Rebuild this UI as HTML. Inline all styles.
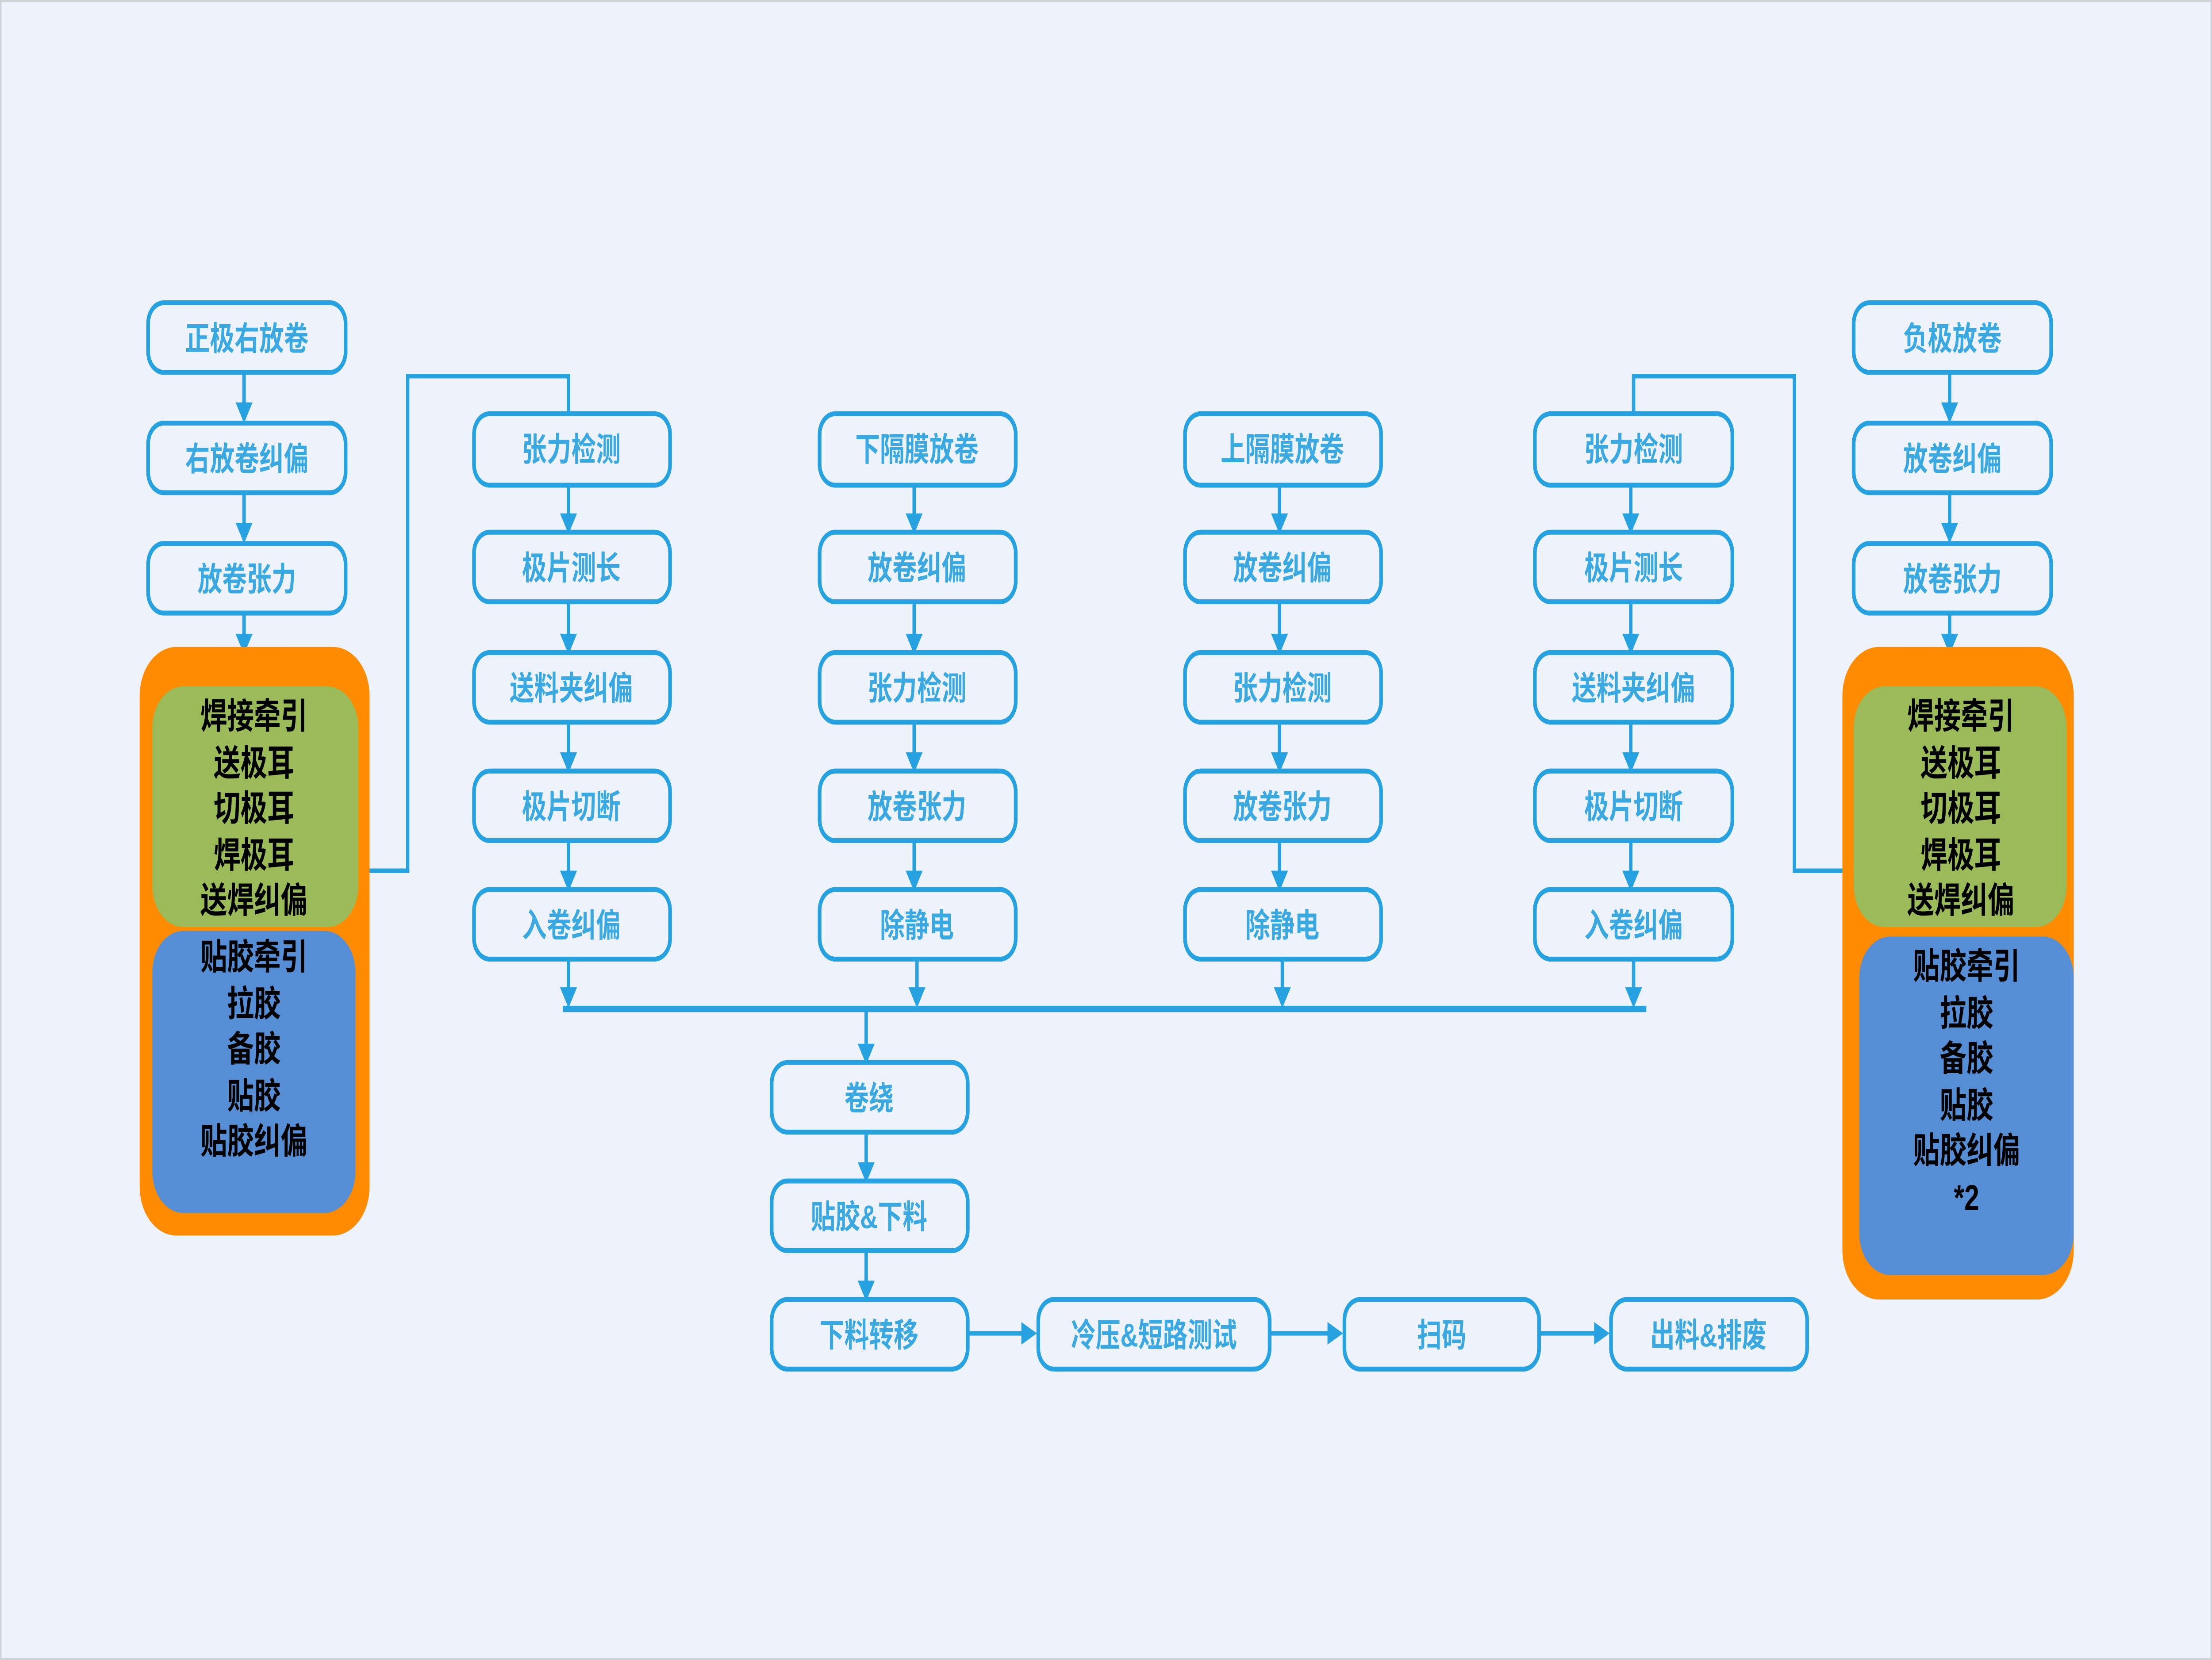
<!DOCTYPE html>
<html><head><meta charset="utf-8"><style>
html,body{margin:0;padding:0;background:#eef2fb;overflow:hidden;width:100%;height:100%;}
svg{display:block;position:absolute;left:0;top:0;width:100vw;height:100vh}
.b{fill:#eef3fb;stroke:#26a2e0;stroke-width:2.6}
.t{fill:#3aa9e2;font-family:"Liberation Sans","Noto Sans CJK SC",sans-serif;font-weight:bold;font-size:17.5px;text-anchor:middle;dominant-baseline:central}
.k{fill:#000;font-family:"Liberation Sans","Noto Sans CJK SC",sans-serif;font-weight:bold;font-size:19px;text-anchor:middle;dominant-baseline:central}
.l{stroke:#26a2e0;stroke-width:2.4;fill:none}
.a{fill:#26a2e0}
</style></head><body>
<svg viewBox="0 0 1568 882.7" preserveAspectRatio="none" xmlns="http://www.w3.org/2000/svg">
<rect x="0" y="0" width="1568" height="882.7" fill="#eef2fb"/>
<rect x="0.5" y="0.5" width="1567" height="881.7" fill="none" stroke="#cfd3d8" stroke-width="1.2"/>
<defs>
<g id="ar"><path d="M-6,-9 L6,-9 L0,2 Z" class="a"/></g>
</defs>

<rect class="b" x="105" y="161" width="140" height="37" rx="11"/><text class="t" x="175" y="180">正极右放卷</text>
<rect class="b" x="105" y="225" width="140" height="37" rx="11"/><text class="t" x="175" y="244">右放卷纠偏</text>
<rect class="b" x="105" y="289" width="140" height="37" rx="11"/><text class="t" x="175" y="308">放卷张力</text>
<line class="l" x1="173" y1="198" x2="173" y2="216"/><use href="#ar" x="173" y="223"/>
<line class="l" x1="173" y1="262" x2="173" y2="280"/><use href="#ar" x="173" y="287"/>
<line class="l" x1="173" y1="326" x2="173" y2="340"/><use href="#ar" x="173" y="346"/>

<rect x="99" y="344" width="163" height="313" rx="26" fill="#ff8c00"/>
<rect x="108" y="365" width="146" height="128" rx="22" fill="#9bbb59"/>
<rect x="108" y="495" width="144" height="150" rx="22" fill="#558ed5"/>
<text class="k" x="180" y="381">焊接牵引</text>
<text class="k" x="180" y="406">送极耳</text>
<text class="k" x="180" y="430">切极耳</text>
<text class="k" x="180" y="455">焊极耳</text>
<text class="k" x="180" y="479">送焊纠偏</text>
<text class="k" x="180" y="509">贴胶牵引</text>
<text class="k" x="180" y="534">拉胶</text>
<text class="k" x="180" y="558">备胶</text>
<text class="k" x="180" y="583">贴胶</text>
<text class="k" x="180" y="607">贴胶纠偏</text>

<polyline class="l" points="262,463 289,463 289,200 403,200 403,220"/>

<rect class="b" x="1314" y="161" width="140" height="37" rx="11"/><text class="t" x="1384" y="180">负极放卷</text>
<rect class="b" x="1314" y="225" width="140" height="37" rx="11"/><text class="t" x="1384" y="244">放卷纠偏</text>
<rect class="b" x="1314" y="289" width="140" height="37" rx="11"/><text class="t" x="1384" y="308">放卷张力</text>
<line class="l" x1="1382" y1="198" x2="1382" y2="216"/><use href="#ar" x="1382" y="223"/>
<line class="l" x1="1382" y1="262" x2="1382" y2="280"/><use href="#ar" x="1382" y="287"/>
<line class="l" x1="1382" y1="326" x2="1382" y2="340"/><use href="#ar" x="1382" y="346"/>

<rect x="1306" y="344" width="164" height="347" rx="26" fill="#ff8c00"/>
<rect x="1314" y="365" width="151" height="128" rx="22" fill="#9bbb59"/>
<rect x="1318" y="498" width="152" height="180" rx="22" fill="#558ed5"/>
<text class="k" x="1390" y="381">焊接牵引</text>
<text class="k" x="1390" y="406">送极耳</text>
<text class="k" x="1390" y="430">切极耳</text>
<text class="k" x="1390" y="455">焊极耳</text>
<text class="k" x="1390" y="479">送焊纠偏</text>
<text class="k" x="1394" y="514">贴胶牵引</text>
<text class="k" x="1394" y="539">拉胶</text>
<text class="k" x="1394" y="563">备胶</text>
<text class="k" x="1394" y="588">贴胶</text>
<text class="k" x="1394" y="612">贴胶纠偏</text>
<text class="k" x="1394" y="637">*2</text>

<polyline class="l" points="1306,463 1272,463 1272,200 1158,200 1158,220"/>

<g>
<rect class="b" x="336" y="220" width="139" height="38" rx="11"/><text class="t" x="405" y="239">张力检测</text>
<rect class="b" x="336" y="283" width="139" height="37" rx="11"/><text class="t" x="405" y="302">极片测长</text>
<rect class="b" x="336" y="347" width="139" height="37" rx="11"/><text class="t" x="405" y="366">送料夹纠偏</text>
<rect class="b" x="336" y="410" width="139" height="37" rx="11"/><text class="t" x="405" y="429">极片切断</text>
<rect class="b" x="336" y="473" width="139" height="37" rx="11"/><text class="t" x="405" y="492">入卷纠偏</text>
</g>
<g>
<rect class="b" x="581" y="220" width="139" height="38" rx="11"/><text class="t" x="650" y="239">下隔膜放卷</text>
<rect class="b" x="581" y="283" width="139" height="37" rx="11"/><text class="t" x="650" y="302">放卷纠偏</text>
<rect class="b" x="581" y="347" width="139" height="37" rx="11"/><text class="t" x="650" y="366">张力检测</text>
<rect class="b" x="581" y="410" width="139" height="37" rx="11"/><text class="t" x="650" y="429">放卷张力</text>
<rect class="b" x="581" y="473" width="139" height="37" rx="11"/><text class="t" x="650" y="492">除静电</text>
</g>
<g>
<rect class="b" x="840" y="220" width="139" height="38" rx="11"/><text class="t" x="909" y="239">上隔膜放卷</text>
<rect class="b" x="840" y="283" width="139" height="37" rx="11"/><text class="t" x="909" y="302">放卷纠偏</text>
<rect class="b" x="840" y="347" width="139" height="37" rx="11"/><text class="t" x="909" y="366">张力检测</text>
<rect class="b" x="840" y="410" width="139" height="37" rx="11"/><text class="t" x="909" y="429">放卷张力</text>
<rect class="b" x="840" y="473" width="139" height="37" rx="11"/><text class="t" x="909" y="492">除静电</text>
</g>
<g>
<rect class="b" x="1088" y="220" width="140" height="38" rx="11"/><text class="t" x="1158" y="239">张力检测</text>
<rect class="b" x="1088" y="283" width="140" height="37" rx="11"/><text class="t" x="1158" y="302">极片测长</text>
<rect class="b" x="1088" y="347" width="140" height="37" rx="11"/><text class="t" x="1158" y="366">送料夹纠偏</text>
<rect class="b" x="1088" y="410" width="140" height="37" rx="11"/><text class="t" x="1158" y="429">极片切断</text>
<rect class="b" x="1088" y="473" width="140" height="37" rx="11"/><text class="t" x="1158" y="492">入卷纠偏</text>
</g>

<g>
<line class="l" x1="403" y1="258" x2="403" y2="274"/><use href="#ar" x="403" y="282"/>
<line class="l" x1="403" y1="320" x2="403" y2="338"/><use href="#ar" x="403" y="346"/>
<line class="l" x1="403" y1="384" x2="403" y2="401"/><use href="#ar" x="403" y="409"/>
<line class="l" x1="403" y1="447" x2="403" y2="464"/><use href="#ar" x="403" y="472"/>
<line class="l" x1="403" y1="510" x2="403" y2="526"/><use href="#ar" x="403" y="534"/>

<line class="l" x1="648" y1="258" x2="648" y2="274"/><use href="#ar" x="648" y="282"/>
<line class="l" x1="648" y1="320" x2="648" y2="338"/><use href="#ar" x="648" y="346"/>
<line class="l" x1="648" y1="384" x2="648" y2="401"/><use href="#ar" x="648" y="409"/>
<line class="l" x1="648" y1="447" x2="648" y2="464"/><use href="#ar" x="648" y="472"/>
<line class="l" x1="650" y1="510" x2="650" y2="526"/><use href="#ar" x="650" y="534"/>

<line class="l" x1="907" y1="258" x2="907" y2="274"/><use href="#ar" x="907" y="282"/>
<line class="l" x1="907" y1="320" x2="907" y2="338"/><use href="#ar" x="907" y="346"/>
<line class="l" x1="907" y1="384" x2="907" y2="401"/><use href="#ar" x="907" y="409"/>
<line class="l" x1="907" y1="447" x2="907" y2="464"/><use href="#ar" x="907" y="472"/>
<line class="l" x1="909" y1="510" x2="909" y2="526"/><use href="#ar" x="909" y="534"/>

<line class="l" x1="1156" y1="258" x2="1156" y2="274"/><use href="#ar" x="1156" y="282"/>
<line class="l" x1="1156" y1="320" x2="1156" y2="338"/><use href="#ar" x="1156" y="346"/>
<line class="l" x1="1156" y1="384" x2="1156" y2="401"/><use href="#ar" x="1156" y="409"/>
<line class="l" x1="1156" y1="447" x2="1156" y2="464"/><use href="#ar" x="1156" y="472"/>
<line class="l" x1="1158" y1="510" x2="1158" y2="526"/><use href="#ar" x="1158" y="534"/>
</g>

<line x1="399" y1="536.5" x2="1167" y2="536.5" stroke="#26a2e0" stroke-width="3.4"/>

<line class="l" x1="614" y1="537" x2="614" y2="555"/><use href="#ar" x="614" y="564"/>
<rect class="b" x="547" y="565" width="139" height="37" rx="11"/><text class="t" x="616" y="584">卷绕</text>
<line class="l" x1="614" y1="602" x2="614" y2="619"/><use href="#ar" x="614" y="627"/>
<rect class="b" x="547" y="628" width="139" height="37" rx="11"/><text class="t" x="616" y="647">贴胶&amp;下料</text>
<line class="l" x1="614" y1="665" x2="614" y2="682"/><use href="#ar" x="614" y="690"/>
<rect class="b" x="547" y="691" width="139" height="37" rx="11"/><text class="t" x="616" y="710">下料转移</text>

<line class="l" x1="686" y1="709" x2="725" y2="709"/><path class="a" d="M724,703 L735,709 L724,715 Z"/>
<rect class="b" x="736" y="691" width="164" height="37" rx="11"/><text class="t" x="818" y="710">冷压&amp;短路测试</text>
<line class="l" x1="900" y1="709" x2="942" y2="709"/><path class="a" d="M941,703 L952,709 L941,715 Z"/>
<rect class="b" x="953" y="691" width="138" height="37" rx="11"/><text class="t" x="1022" y="710">扫码</text>
<line class="l" x1="1091" y1="709" x2="1131" y2="709"/><path class="a" d="M1130,703 L1141,709 L1130,715 Z"/>
<rect class="b" x="1142" y="691" width="139" height="37" rx="11"/><text class="t" x="1211" y="710">出料&amp;排废</text>
</svg>
</body></html>
